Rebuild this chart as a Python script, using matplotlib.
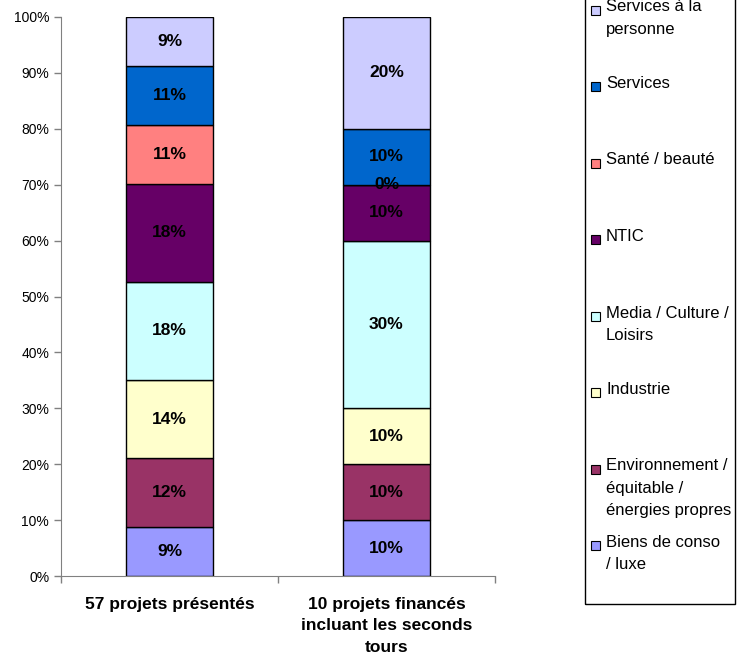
import matplotlib
matplotlib.use("Agg")
import matplotlib.pyplot as plt
from matplotlib.patches import Rectangle
import numpy as np

plt.rcParams["font.family"] = ["Liberation Sans", "DejaVu Sans"]

groups = ["57 projets présentés", "10 projets financés\nincluant les seconds\ntours"]
sectors = [
    "Biens de conso\n/ luxe",
    "Environnement /\néquitable /\nénergies propres",
    "Industrie",
    "Media / Culture /\nLoisirs",
    "NTIC",
    "Santé / beauté",
    "Services",
    "Services à la\npersonne",
]
colors = ["#9999FF", "#993366", "#FFFFCC", "#CCFFFF", "#660066", "#FF8080", "#0066CC", "#CCCCFF"]
# share of projects per sector (%), bottom to top
presented = [8.77, 12.28, 14.04, 17.54, 17.54, 10.53, 10.53, 8.77]
financed = [10, 10, 10, 30, 10, 0, 10, 20]

W, H = 747, 659
fig = plt.figure(figsize=(W / 100, H / 100), dpi=100)
ax = fig.add_axes([61 / W, (H - 576) / H, (495 - 61) / W, (576 - 17) / H])

x = np.arange(len(groups))
bottom = np.zeros(len(groups))
for name, color, a, b in zip(sectors, colors, presented, financed):
    vals = np.array([a, b])
    bars = ax.bar(x, vals, 0.4, bottom=bottom, color=color, edgecolor="black", linewidth=1)
    ax.bar_label(bars, labels=[f"{v:.0f}%" for v in vals], label_type="center",
                 fontsize=12.5, fontweight="bold", color="black")
    bottom += vals

ax.set_xlim(-0.5, 1.5)
ax.set_ylim(0, 100)
ax.set_yticks(np.arange(0, 101, 10))
ax.set_yticklabels([f"{t}%" for t in range(0, 101, 10)], fontsize=10)
ax.set_xticks([-0.5, 0.5, 1.5])
ax.set_xticklabels([])
ax.set_xticks(x, minor=True)
ax.set_xticklabels(groups, minor=True, fontsize=12.5, fontweight="bold",
                   multialignment="center", linespacing=1.55)
ax.tick_params(axis="x", which="minor", length=0, pad=15)
ax.tick_params(axis="both", which="major", length=5, color="#808080", width=1)
for side in ["top", "right"]:
    ax.spines[side].set_visible(False)
for side in ["left", "bottom"]:
    ax.spines[side].set_color("#808080")

# legend drawn Excel-style: entries top-aligned on an even pitch
fig.patches.append(Rectangle((585 / W, (H - 604) / H), 150 / W, 620 / H, transform=fig.transFigure,
                             facecolor="none", edgecolor="black", linewidth=1))
for i, (name, color) in enumerate(zip(sectors[::-1], colors[::-1])):
    top = -0.5 + i * 76.5
    fig.patches.append(Rectangle((591 / W, (H - top - 15) / H), 9 / W, 9 / H, transform=fig.transFigure,
                                 facecolor=color, edgecolor="black", linewidth=0.8))
    fig.text(606 / W, (H - top) / H, name, fontsize=12, va="top", ha="left", linespacing=1.6)

fig.savefig("out.png", dpi=100)
